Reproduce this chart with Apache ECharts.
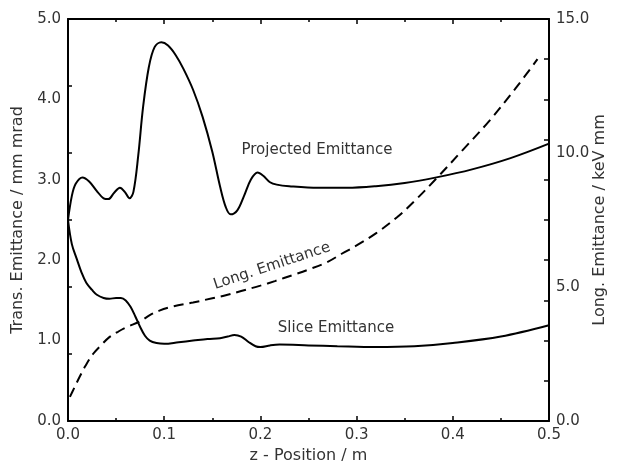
<!DOCTYPE html>
<html>
<head>
<meta charset="utf-8">
<script src="https://cdn.jsdelivr.net/npm/echarts@6/dist/echarts.min.js"></script>
<style>html,body{margin:0;padding:0;background:#fff}#c{width:618px;height:463px}</style>
</head>
<body>
<div id="c"></div>
<script>
// x positions (m) and values
const projX = [0, 0.004, 0.008, 0.015, 0.022, 0.03, 0.037, 0.042, 0.048, 0.054, 0.059, 0.064, 0.068, 0.073, 0.078, 0.084, 0.09, 0.097, 0.104, 0.112, 0.12, 0.13, 0.14, 0.15, 0.158, 0.164, 0.169, 0.176, 0.183, 0.19, 0.197, 0.203, 0.21, 0.217, 0.23, 0.26, 0.29, 0.32, 0.35, 0.383, 0.42, 0.46, 0.5];
const projY = [2.5, 2.8, 2.95, 3.03, 2.98, 2.86, 2.77, 2.76, 2.84, 2.9, 2.85, 2.77, 2.85, 3.3, 3.9, 4.4, 4.65, 4.71, 4.67, 4.55, 4.38, 4.12, 3.78, 3.35, 2.92, 2.66, 2.57, 2.62, 2.8, 3.0, 3.09, 3.05, 2.97, 2.94, 2.92, 2.9, 2.9, 2.92, 2.96, 3.03, 3.13, 3.27, 3.45];

const sliceX = [0, 0.004, 0.009, 0.014, 0.019, 0.025, 0.03, 0.037, 0.043, 0.05, 0.055, 0.06, 0.065, 0.07, 0.075, 0.08, 0.085, 0.092, 0.1, 0.115, 0.13, 0.145, 0.158, 0.166, 0.173, 0.18, 0.188, 0.195, 0.2, 0.21, 0.22, 0.25, 0.28, 0.32, 0.36, 0.4, 0.45, 0.5];
const sliceY = [2.5, 2.2, 2.02, 1.85, 1.72, 1.63, 1.57, 1.53, 1.52, 1.53, 1.53, 1.5, 1.42, 1.3, 1.17, 1.06, 1.0, 0.97, 0.96, 0.98, 1.0, 1.02, 1.03, 1.05, 1.07, 1.05, 0.98, 0.93, 0.92, 0.94, 0.95, 0.94, 0.93, 0.92, 0.93, 0.97, 1.05, 1.19];

const longX = [0.002, 0.006, 0.012, 0.018, 0.026, 0.035, 0.043, 0.052, 0.061, 0.075, 0.085, 0.095, 0.11, 0.13, 0.15, 0.165, 0.18, 0.2, 0.215, 0.234, 0.25, 0.269, 0.285, 0.3, 0.32, 0.342, 0.36, 0.383, 0.41, 0.438, 0.465, 0.488];
const longY = [0.9, 1.2, 1.64, 2.05, 2.5, 2.85, 3.13, 3.33, 3.5, 3.72, 3.95, 4.12, 4.28, 4.42, 4.58, 4.7, 4.85, 5.05, 5.22, 5.45, 5.65, 5.92, 6.25, 6.55, 7.0, 7.6, 8.2, 9.05, 10.1, 11.2, 12.4, 13.5];

const leftLabels = [0, 1, 2, 3, 4, 5];
const leftTicks = [0, 5/6, 10/6, 15/6, 20/6, 25/6, 5];
const rightLabels = [0, 5, 10, 15];
const rightTicks = [0, 1.5, 3, 4.5, 6, 7.5, 9, 10.5, 12, 13.5, 15];

const FONT = 'DejaVu Sans';
const TXT = '#333';
const zip = (a, b) => a.map((v, i) => [v, b[i]]);

const chart = echarts.init(document.getElementById('c'));
const xCommon = {
  type: 'value', min: 0, max: 0.5, interval: 0.1,
  axisLine: { show: true, onZero: false, lineStyle: { color: '#000', width: 2 } },
  axisTick: { show: true, inside: true, length: 5, lineStyle: { color: '#000', width: 1.5 } },
  minorTick: { show: true, splitNumber: 2, length: 3, lineStyle: { color: '#000', width: 1.5 } },
  splitLine: { show: false }
};
chart.setOption({
  animation: false,
  grid: { left: 68, right: 69, top: 19, bottom: 42, containLabel: false, outerBoundsMode: 'none' },
  xAxis: [
    Object.assign({}, xCommon, {
      position: 'bottom',
      name: 'z - Position / m', nameLocation: 'middle', nameGap: 26,
      nameTextStyle: { fontFamily: FONT, fontSize: 16, color: TXT },
      axisLabel: { fontFamily: FONT, fontSize: 15, color: TXT, margin: 7, formatter: v => v.toFixed(1) }
    }),
    Object.assign({}, xCommon, { position: 'top', axisLabel: { show: false } })
  ],
  yAxis: [
    {
      type: 'value', position: 'left', min: 0, max: 5,
      name: 'Trans. Emittance / mm mrad', nameLocation: 'middle', nameGap: 42,
      nameTextStyle: { fontFamily: FONT, fontSize: 16, color: TXT },
      axisLine: { show: true, onZero: false, lineStyle: { color: '#000', width: 2 } },
      axisTick: { show: true, inside: true, length: 4, customValues: leftTicks, lineStyle: { color: '#000', width: 1.5 } },
      axisLabel: { fontFamily: FONT, fontSize: 15, color: TXT, margin: 7, customValues: leftLabels, formatter: v => v.toFixed(1) },
      splitLine: { show: false }
    },
    {
      type: 'value', position: 'right', min: 0, max: 15,
      name: 'Long. Emittance / keV mm', nameLocation: 'middle', nameGap: 43,
      nameRotate: 90, nameMoveOverlap: false,
      nameTextStyle: { fontFamily: FONT, fontSize: 16, color: TXT },
      axisLine: { show: true, onZero: false, lineStyle: { color: '#000', width: 2 } },
      axisTick: { show: true, inside: true, length: 5, customValues: rightTicks, lineStyle: { color: '#000', width: 1.5 } },
      axisLabel: { fontFamily: FONT, fontSize: 15, color: TXT, margin: 7, customValues: rightLabels, formatter: v => v.toFixed(1) },
      splitLine: { show: false }
    }
  ],
  series: [
    { type: 'line', xAxisIndex: 0, yAxisIndex: 0, data: zip(projX, projY), smooth: 0.35, showSymbol: false, lineStyle: { color: '#000', width: 2 } },
    { type: 'line', xAxisIndex: 0, yAxisIndex: 0, data: zip(sliceX, sliceY), smooth: 0.35, showSymbol: false, lineStyle: { color: '#000', width: 2 } },
    { type: 'line', xAxisIndex: 0, yAxisIndex: 1, data: zip(longX, longY), smooth: 0.35, showSymbol: false, lineStyle: { color: '#000', width: 2, type: [10, 6] } }
  ],
  graphic: [
    { type: 'text', x: 317, y: 150, style: { text: 'Projected Emittance', font: '15px "DejaVu Sans"', fill: TXT, align: 'center', verticalAlign: 'middle' } },
    { type: 'text', x: 336, y: 328, style: { text: 'Slice Emittance', font: '15px "DejaVu Sans"', fill: TXT, align: 'center', verticalAlign: 'middle' } },
    { type: 'text', x: 272, y: 266, rotation: 0.32, originX: 0, originY: 0, style: { text: 'Long. Emittance', font: '15px "DejaVu Sans"', fill: TXT, align: 'center', verticalAlign: 'middle' } }
  ]
});
</script>
</body>
</html>
